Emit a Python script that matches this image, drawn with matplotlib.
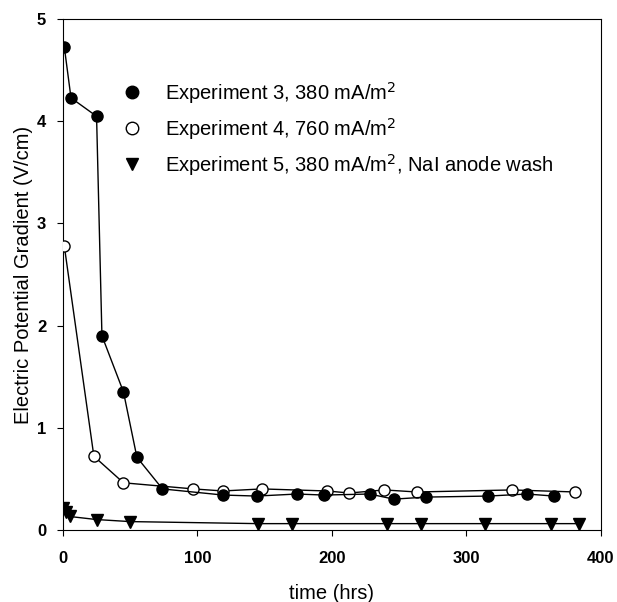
import matplotlib
matplotlib.use("Agg")
import matplotlib.pyplot as plt
from matplotlib.lines import Line2D

plt.rcParams['font.family'] = ['Liberation Sans', 'DejaVu Sans']

# Experiment 3, 380 mA/m2
t3 = [1, 6, 25, 29, 45, 55, 74, 119, 144, 174, 194, 228, 246, 270, 316, 345, 365]
v3 = [4.73, 4.23, 4.05, 1.90, 1.35, 0.71, 0.40, 0.34, 0.33, 0.35, 0.34, 0.35, 0.30, 0.32, 0.33, 0.35, 0.33]

# Experiment 4, 760 mA/m2
t4 = [1, 23, 45, 97, 119, 148, 196, 213, 239, 263, 334, 381]
v4 = [2.78, 0.72, 0.46, 0.40, 0.38, 0.40, 0.38, 0.36, 0.39, 0.37, 0.39, 0.37]

# Experiment 5, 380 mA/m2, NaI anode wash
t5 = [0, 2, 5, 25, 50, 145, 170, 241, 266, 314, 363, 384]
v5 = [0.21, 0.17, 0.13, 0.10, 0.08, 0.06, 0.06, 0.06, 0.06, 0.06, 0.06, 0.06]

labels = ["Experiment 3, 380 mA/m$^2$",
          "Experiment 4, 760 mA/m$^2$",
          "Experiment 5, 380 mA/m$^2$, NaI anode wash"]

fig = plt.figure(figsize=(6.17, 6.02), dpi=100)
ax = fig.add_axes([0.102, 0.12, 0.872, 0.848])

ax.plot(t5, v5, color="black", lw=1, marker="v", ms=8, mfc="black", mec="black", zorder=2)
ax.plot(t4, v4, color="black", lw=1, marker="o", ms=8, mfc="white", mec="black", zorder=3)
ax.plot(t3, v3, color="black", lw=1, marker="o", ms=8, mfc="black", mec="black", zorder=4)

handles = [
    Line2D([], [], ls="none", marker="o", ms=9, mfc="black", mec="black"),
    Line2D([], [], ls="none", marker="o", ms=9, mfc="white", mec="black"),
    Line2D([], [], ls="none", marker="v", ms=9, mfc="black", mec="black"),
]
ax.legend(handles, labels, loc="upper left", bbox_to_anchor=(0.067, 0.917),
          frameon=False, fontsize=14.5, handletextpad=0.9, labelspacing=0.5,
          handlelength=1.5)

ax.set_xlim(0, 400)
ax.set_ylim(0, 5)
ax.set_xticks([0, 100, 200, 300, 400])
ax.set_yticks([0, 1, 2, 3, 4, 5])
ax.tick_params(direction="out", length=4, width=0.8, labelsize=12, pad=8)
ax.tick_params(axis="x", pad=11)
for lab in ax.get_xticklabels() + ax.get_yticklabels():
    lab.set_fontweight("bold")

ax.set_xlabel("time (hrs)", fontsize=14.5, labelpad=13)
ax.set_ylabel("Electric Potential Gradient (V/cm)", fontsize=14.5, labelpad=3)

fig.savefig("out.png", dpi=100)
